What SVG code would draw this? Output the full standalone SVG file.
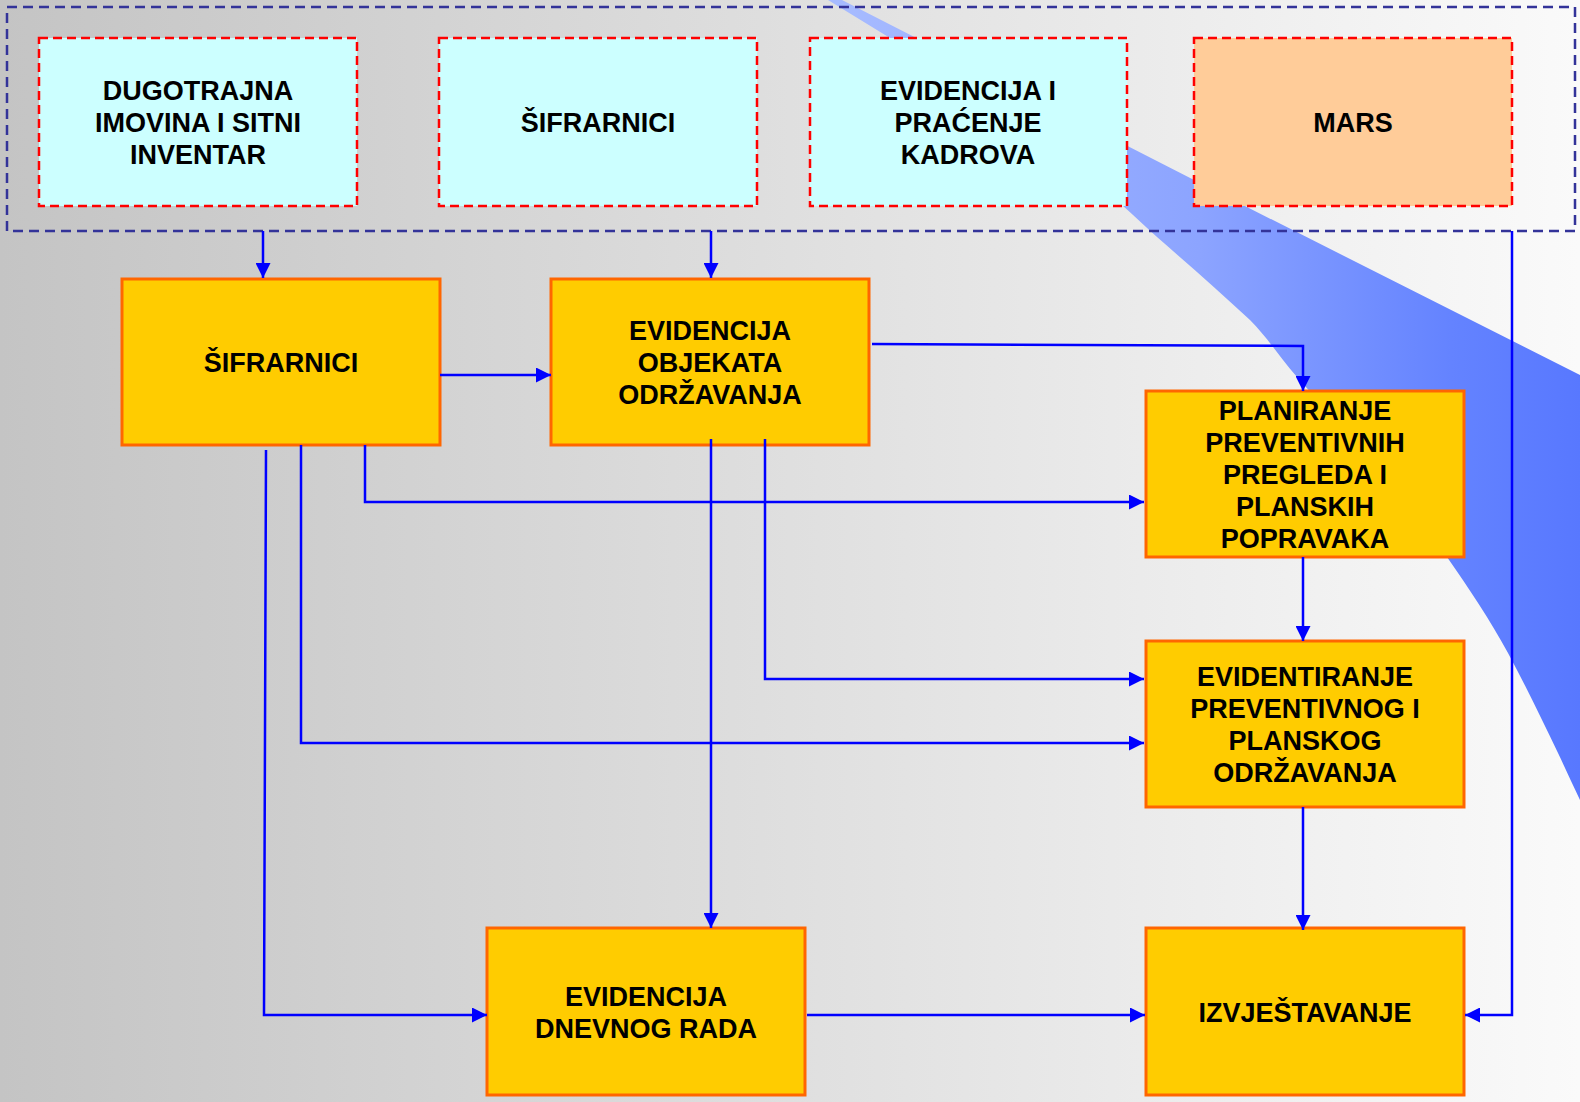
<svg xmlns="http://www.w3.org/2000/svg" width="1580" height="1102" viewBox="0 0 1580 1102">
<style>
.t{font-family:"Liberation Sans",Arial,sans-serif;font-weight:bold;font-size:27px;fill:#000;text-anchor:middle}
.src{fill:#CCFFFF;stroke:#FF0000;stroke-width:2.5;stroke-dasharray:9 5}
.mars{fill:#FFCC99;stroke:#FF0000;stroke-width:2.5;stroke-dasharray:9 5}
.box{fill:#FFCC00;stroke:#FF6600;stroke-width:3}
.c{fill:none;stroke:#0000FF;stroke-width:2.5;marker-end:url(#arr)}
</style>
<defs>
<linearGradient id="bg" x1="0" y1="0" x2="1580" y2="0" gradientUnits="userSpaceOnUse">
<stop offset="0" stop-color="#c4c4c4"/><stop offset="1" stop-color="#fafafa"/>
</linearGradient>
<linearGradient id="sw" x1="820" y1="0" x2="1580" y2="0" gradientUnits="userSpaceOnUse">
<stop offset="0" stop-color="#a8bcff"/><stop offset="0.5" stop-color="#8ca4ff"/><stop offset="0.83" stop-color="#6483ff"/><stop offset="1" stop-color="#5878ff"/>
</linearGradient>
<marker id="arr" viewBox="0 0 15 15" refX="15" refY="7.5" markerWidth="15" markerHeight="15" orient="auto" markerUnits="userSpaceOnUse">
<path d="M0,0 L15,7.5 L0,15 z" fill="#0000FF"/>
</marker>
</defs>
<rect x="0" y="0" width="1580" height="1102" fill="url(#bg)"/>
<path d="M842,0 L1243,205 L1580,375 L1580,800 C1572,783 1566,770 1558,753 C1542,720 1528,690 1508,653 C1490,620 1470,590 1447,557 C1400,495 1340,425 1297,377 C1280,358 1268,338 1250,320 C1220,292 1190,266 1157,237 C1145,226 1134,216 1122,205 L890,38 L828,0 Z" fill="url(#sw)"/>
<rect x="7" y="7" width="1568" height="224" fill="none" stroke="#333399" stroke-width="2.5" stroke-dasharray="10 6"/>

<g id="n-dugotrajna">
<rect class="src" x="39" y="38" width="318" height="168"/>
<text class="t" x="198" y="100">DUGOTRAJNA</text>
<text class="t" x="198" y="132">IMOVINA I SITNI</text>
<text class="t" x="198" y="164">INVENTAR</text>
</g>
<g id="n-sifrarnici-src">
<rect class="src" x="439" y="38" width="318" height="168"/>
<text class="t" x="598" y="132">ŠIFRARNICI</text>
</g>
<g id="n-kadrovi">
<rect class="src" x="810" y="38" width="317" height="168"/>
<text class="t" x="968" y="100">EVIDENCIJA I</text>
<text class="t" x="968" y="132">PRAĆENJE</text>
<text class="t" x="968" y="164">KADROVA</text>
</g>
<g id="n-mars">
<rect class="mars" x="1194" y="38" width="318" height="168"/>
<text class="t" x="1353" y="132">MARS</text>
</g>

<g id="n-sifrarnici">
<rect class="box" x="122" y="279" width="318" height="166"/>
<text class="t" x="281" y="372">ŠIFRARNICI</text>
</g>
<g id="n-objekti">
<rect class="box" x="551" y="279" width="318" height="166"/>
<text class="t" x="710" y="340">EVIDENCIJA</text>
<text class="t" x="710" y="372">OBJEKATA</text>
<text class="t" x="710" y="404">ODRŽAVANJA</text>
</g>
<g id="n-planiranje">
<rect class="box" x="1146" y="391" width="318" height="166"/>
<text class="t" x="1305" y="420">PLANIRANJE</text>
<text class="t" x="1305" y="452">PREVENTIVNIH</text>
<text class="t" x="1305" y="484">PREGLEDA I</text>
<text class="t" x="1305" y="516">PLANSKIH</text>
<text class="t" x="1305" y="548">POPRAVAKA</text>
</g>
<g id="n-evidentiranje">
<rect class="box" x="1146" y="641" width="318" height="166"/>
<text class="t" x="1305" y="686">EVIDENTIRANJE</text>
<text class="t" x="1305" y="718">PREVENTIVNOG I</text>
<text class="t" x="1305" y="750">PLANSKOG</text>
<text class="t" x="1305" y="782">ODRŽAVANJA</text>
</g>
<g id="n-dnevni">
<rect class="box" x="487" y="928" width="318" height="167"/>
<text class="t" x="646" y="1006">EVIDENCIJA</text>
<text class="t" x="646" y="1038">DNEVNOG RADA</text>
</g>
<g id="n-izvjestavanje">
<rect class="box" x="1146" y="928" width="318" height="167"/>
<text class="t" x="1305" y="1022">IZVJEŠTAVANJE</text>
</g>

<g id="connectors">
<path class="c" d="M263,231 V278"/>
<path class="c" d="M711,231 V278"/>
<path class="c" d="M440,375 H551"/>
<path class="c" d="M872,344 L1303,346 V391"/>
<path class="c" d="M365,445 V502 H1144"/>
<path class="c" d="M301,445 V743 H1144"/>
<path class="c" d="M266,450 L264,1015 H487"/>
<path class="c" d="M711,439 V928"/>
<path class="c" d="M765,439 V679 H1144"/>
<path class="c" d="M1303,557 V641"/>
<path class="c" d="M1303,807 V930"/>
<path class="c" d="M807,1015 H1145"/>
<path class="c" d="M1512,231 V1015 H1465"/>
</g>
</svg>
